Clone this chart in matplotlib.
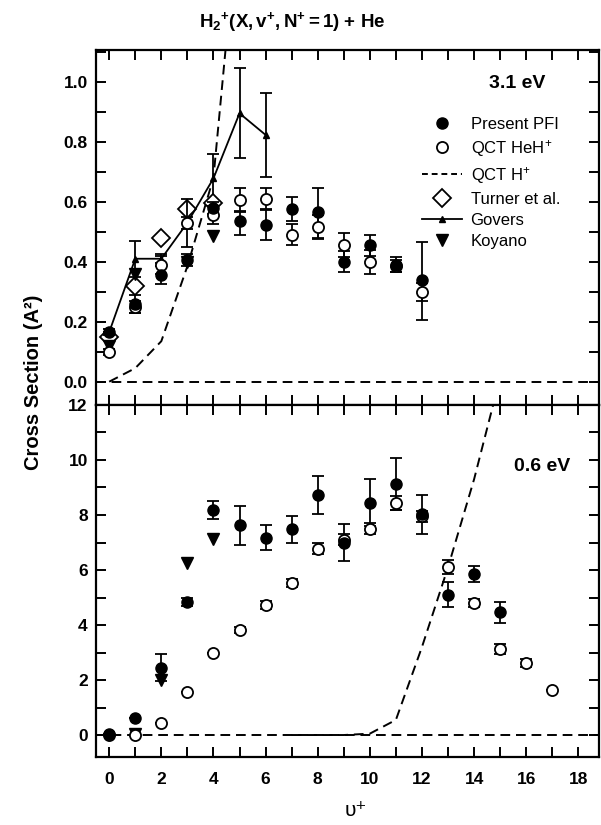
import numpy as np
import matplotlib
matplotlib.use("Agg")
import matplotlib.pyplot as plt
from matplotlib.lines import Line2D
from matplotlib.ticker import MultipleLocator, FixedLocator

plt.rcParams['font.family'] = ['Liberation Sans', 'DejaVu Sans']
plt.rcParams['mathtext.fontset'] = 'custom'
plt.rcParams['mathtext.rm'] = 'Liberation Sans'
plt.rcParams['mathtext.bf'] = 'Liberation Sans:bold'
plt.rcParams['mathtext.it'] = 'Liberation Sans:italic'

# ---- 3.1 eV (top panel) ----
v_pfi_31 = [0, 1, 2, 3, 4, 5, 6, 7, 8, 9, 10, 11, 12]
pfi_31 = [0.165, 0.26, 0.355, 0.405, 0.58, 0.535, 0.523, 0.575, 0.565, 0.40, 0.455, 0.39, 0.34]
pfi_31_lo = [0.01, 0.03, 0.03, 0.02, 0.02, 0.045, 0.05, 0.04, 0.085, 0.035, 0.035, 0.025, 0.135]
pfi_31_hi = [0.01, 0.03, 0.03, 0.02, 0.02, 0.035, 0.05, 0.04, 0.08, 0.035, 0.035, 0.025, 0.127]

v_qct_31 = [0, 1, 2, 3, 4, 5, 6, 7, 8, 9, 10, 11, 12]
qct_31 = [0.10, 0.25, 0.39, 0.53, 0.555, 0.605, 0.61, 0.49, 0.515, 0.455, 0.40, 0.385, 0.30]
qct_31_err = [0.01, 0.02, 0.03, 0.08, 0.03, 0.04, 0.035, 0.035, 0.04, 0.04, 0.04, 0.02, 0.03]

v_turner = [0, 1, 2, 3, 4]
turner = [0.15, 0.32, 0.48, 0.575, 0.595]

v_govers = [0, 1, 2, 3, 4, 5, 6]
govers = [0.165, 0.41, 0.41, 0.53, 0.678, 0.895, 0.823]
govers_err = [0.0, 0.06, 0.015, 0.02, 0.082, 0.15, 0.14]

v_koy_31 = [0, 1, 3, 4]
koy_31 = [0.12, 0.36, 0.40, 0.485]

v_h_31 = [0, 1, 2, 3, 4, 5]
h_31 = [0.0, 0.045, 0.135, 0.385, 0.68, 1.6]

# ---- 0.6 eV (bottom panel) ----
v_pfi_06 = [0, 1, 2, 3, 4, 5, 6, 7, 8, 9, 10, 11, 12, 13, 14, 15]
pfi_06 = [0.05, 0.63, 2.45, 4.85, 8.18, 7.62, 7.17, 7.48, 8.73, 6.99, 8.45, 9.12, 8.02, 5.1, 5.86, 4.47]
pfi_06_err = [0, 0, 0.5, 0.15, 0.33, 0.72, 0.45, 0.5, 0.68, 0.68, 0.85, 0.95, 0.7, 0.45, 0.3, 0.38]

v_qct_06 = [0, 1, 2, 3, 4, 5, 6, 7, 8, 9, 10, 11, 12, 13, 14, 15, 16, 17]
qct_06 = [0.0, 0.0, 0.45, 1.57, 3.0, 3.82, 4.73, 5.54, 6.78, 7.1, 7.5, 8.45, 7.95, 6.1, 4.8, 3.12, 2.62, 1.65]
qct_06_err = [0, 0, 0, 0, 0, 0.1, 0.15, 0.15, 0.2, 0.2, 0.2, 0.25, 0.2, 0.25, 0.15, 0.18, 0.15, 0]

v_koy_06 = [1, 2, 3, 4]
koy_06 = [0.02, 2.0, 6.25, 7.12]

v_h_06 = [7, 8, 9, 10, 11, 12, 13, 14, 15]
h_06 = [0.0, 0.0, 0.0, 0.05, 0.55, 3.2, 6.1, 9.3, 13.0]

xticks = list(range(0, 19))

fig = plt.figure(figsize=(6.01, 8.25), dpi=100)
ax1 = fig.add_axes([0.16, 0.509, 0.837, 0.43])
ax2 = fig.add_axes([0.16, 0.0824, 0.837, 0.4267])

dash = (0, (5, 3))
ms = 8
ebkw = dict(ecolor='black', elinewidth=1.3, capsize=4, capthick=1.3, linestyle='none')

# top panel
ax1.axhline(0, color='black', lw=1.4, ls=dash)
ax1.plot(v_h_31, h_31, color='black', lw=1.4, ls=dash)
ax1.errorbar(v_govers, govers, yerr=govers_err, color='black', lw=1.3, marker='^', ms=5,
             ecolor='black', elinewidth=1.3, capsize=4, capthick=1.3)
ax1.plot(v_turner, turner, ls='none', marker='D', ms=9.5, mfc='white', mec='black', mew=1.3)
ax1.errorbar(v_qct_31, qct_31, yerr=qct_31_err, marker='o', ms=ms, mfc='white', mec='black',
             mew=1.3, **ebkw)
ax1.errorbar(v_pfi_31, pfi_31, yerr=[pfi_31_lo, pfi_31_hi], marker='o', ms=ms, mfc='black',
             mec='black', **ebkw)
ax1.plot(v_koy_31, koy_31, ls='none', marker='v', ms=8, color='black')

ax1.set_xlim(-0.5, 18.8)
ax1.set_ylim(-0.078, 1.105)
ax1.yaxis.set_major_locator(FixedLocator([0.0, 0.2, 0.4, 0.6, 0.8, 1.0]))
ax1.yaxis.set_minor_locator(MultipleLocator(0.1))
ax1.set_yticklabels(['0.0', '0.2', '0.4', '0.6', '0.8', '1.0'])
ax1.xaxis.set_major_locator(FixedLocator(xticks))
ax1.tick_params(axis='x', labelbottom=False)
ax1.text(0.893, 0.93, '3.1 eV', transform=ax1.transAxes, ha='right', va='top',
         fontsize=14, fontweight='bold')

handles = [
    Line2D([], [], ls='none', marker='o', ms=ms, color='black'),
    Line2D([], [], ls='none', marker='o', ms=ms, mfc='white', mec='black', mew=1.3),
    Line2D([], [], color='black', lw=1.4, ls=(0, (3, 2))),
    Line2D([], [], ls='none', marker='D', ms=9.5, mfc='white', mec='black', mew=1.3),
    Line2D([], [], color='black', lw=1.3, marker='^', ms=5),
    Line2D([], [], ls='none', marker='v', ms=8, color='black'),
]
labels = ['Present PFI', 'QCT HeH$^{+}$', 'QCT H$^{+}$', 'Turner et al.', 'Govers', 'Koyano']
ax1.legend(handles, labels, loc='upper left', bbox_to_anchor=(0.625, 0.845), frameon=False,
           fontsize=12, handlelength=2.4, handletextpad=0.5, labelspacing=0.36,
           borderpad=0.2)

# bottom panel
ax2.axhline(0, color='black', lw=1.4, ls=dash)
ax2.plot(v_h_06, h_06, color='black', lw=1.4, ls=dash)
ax2.errorbar(v_qct_06, qct_06, yerr=qct_06_err, marker='o', ms=ms, mfc='white', mec='black',
             mew=1.3, **ebkw)
ax2.errorbar(v_pfi_06, pfi_06, yerr=pfi_06_err, marker='o', ms=ms, mfc='black',
             mec='black', **ebkw)
ax2.plot(v_koy_06, koy_06, ls='none', marker='v', ms=8, color='black')

ax2.set_xlim(-0.5, 18.8)
ax2.set_ylim(-0.8, 12)
ax2.yaxis.set_major_locator(MultipleLocator(2))
ax2.yaxis.set_minor_locator(MultipleLocator(1))
ax2.xaxis.set_major_locator(FixedLocator(xticks))
ax2.set_xticklabels([str(t) if t % 2 == 0 else '' for t in xticks])
ax2.text(0.942, 0.85, '0.6 eV', transform=ax2.transAxes, ha='right', va='top',
         fontsize=14, fontweight='bold')

for ax in (ax1, ax2):
    for s in ax.spines.values():
        s.set_linewidth(1.6)
    ax.tick_params(which='both', direction='in', top=True, right=True, width=1.4)
    ax.tick_params(which='major', length=7, labelsize=12.5)
    ax.tick_params(which='minor', length=7)
    ax.tick_params(axis='y', pad=6)
    ax.tick_params(axis='x', pad=11)
    for lab in ax.get_xticklabels() + ax.get_yticklabels():
        lab.set_fontweight('bold')

fig.text(292 / 601, 1 - 22 / 825, r'$\mathbf{H_2{}^{+}(X,v^{+},N^{+}{=}1)\ {+}\ He}$',
         ha='center', va='center', fontsize=13.5)
fig.text(34 / 601, 1 - 382 / 825, 'Cross Section (A²)', rotation=90, ha='center',
         va='center', fontsize=14.5, fontweight='bold')
fig.text(356 / 601, 1 - 810 / 825, 'υ⁺', ha='center', va='center', fontsize=15)

fig.savefig('out.png', dpi=100)
